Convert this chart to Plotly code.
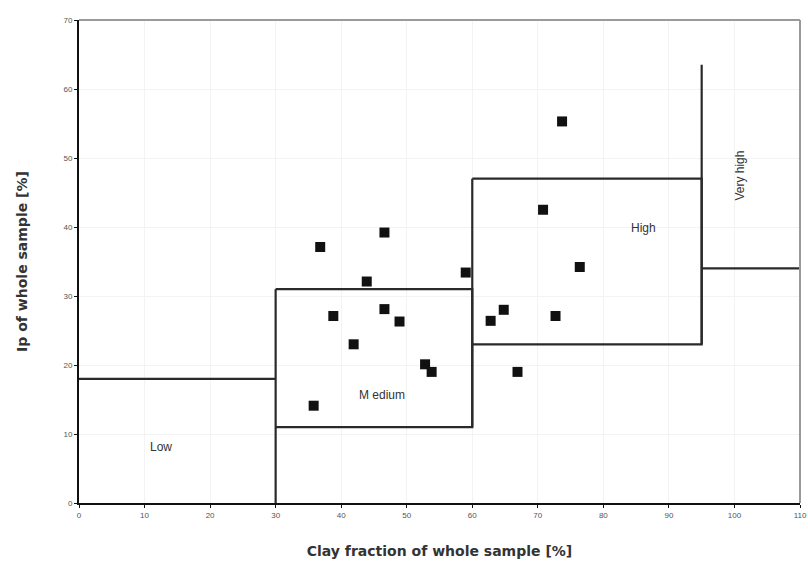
import plotly.graph_objects as go

# Sample points: clay fraction (%) and plasticity index Ip (%)
clay = [36.8, 46.6, 43.9, 59.0, 38.8, 46.6, 48.9, 41.9, 52.8, 53.8, 35.8,
        73.7, 70.8, 76.4, 64.8, 62.8, 72.7, 66.9]
ip = [37.1, 39.2, 32.1, 33.4, 27.1, 28.1, 26.3, 23.0, 20.1, 19.0, 14.1,
      55.3, 42.5, 34.2, 28.0, 26.4, 27.1, 19.0]

# Class boundary polylines
seg_low_x, seg_low_y = [0, 30], [18, 18]
seg_30_x, seg_30_y = [30, 30], [0, 31]
seg_med_x, seg_med_y = [30, 60, 60, 30], [31, 31, 11, 11]
seg_60_x, seg_60_y = [60, 60], [11, 47]
seg_high_x, seg_high_y = [60, 95, 95, 60], [47, 47, 23, 23]
seg_95_x, seg_95_y = [95, 95], [23, 63.5]
seg_vh_x, seg_vh_y = [95, 110], [34, 34]

# Class labels
class_names = ["Low", "M edium", "High", "Very high"]
class_x = [12.5, 46.3, 86.1, 100.9]
class_y = [8.1, 15.7, 39.9, 47.5]
class_angle = [0, 0, 0, -90]

x_ticks = list(range(0, 111, 10))
y_ticks = list(range(0, 71, 10))

fig = go.Figure()
segments = [(seg_low_x, seg_low_y), (seg_30_x, seg_30_y), (seg_med_x, seg_med_y),
            (seg_60_x, seg_60_y), (seg_high_x, seg_high_y), (seg_95_x, seg_95_y),
            (seg_vh_x, seg_vh_y)]
for sx, sy in segments:
    fig.add_trace(go.Scatter(x=sx, y=sy, mode="lines",
                             line=dict(color="#2a2a2a", width=2.2),
                             hoverinfo="skip", showlegend=False))

fig.add_trace(go.Scatter(x=clay, y=ip, mode="markers",
                         marker=dict(symbol="square", size=10, color="#111111"),
                         showlegend=False))

for name, cx, cy, ang in zip(class_names, class_x, class_y, class_angle):
    fig.add_annotation(x=cx, y=cy, text=name, showarrow=False, textangle=ang,
                       font=dict(family="Liberation Sans, Arial", size=12, color="#333333"))

# Grey top/right frame
fig.add_shape(type="line", xref="paper", yref="paper", x0=0, x1=1, y0=1, y1=1,
              line=dict(color="#9a9a9a", width=2))
fig.add_shape(type="line", xref="paper", yref="paper", x0=1, x1=1, y0=0, y1=1,
              line=dict(color="#9a9a9a", width=2))

fig.update_xaxes(range=[0, 110], tickvals=x_ticks, ticktext=[str(v) for v in x_ticks],
                 showline=True, linecolor="#111111", linewidth=2,
                 ticks="outside", ticklen=3, tickcolor="#111111",
                 showgrid=True, gridcolor="#f3f3f3", zeroline=False, automargin=False,
                 tickfont=dict(family="Liberation Sans, Arial", size=8, color="#555555"),
                 title=dict(text="<b>Clay fraction of whole sample [%]</b>",
                            font=dict(family="DejaVu Sans, Verdana", size=14, color="#333333"),
                            standoff=28))
fig.update_yaxes(range=[0, 70], tickvals=y_ticks, ticktext=[str(v) for v in y_ticks],
                 showline=True, linecolor="#111111", linewidth=2,
                 ticks="outside", ticklen=3, tickcolor="#111111",
                 showgrid=True, gridcolor="#f3f3f3", zeroline=False, automargin=False,
                 tickfont=dict(family="Liberation Sans, Arial", size=8, color="#555555"),
                 title=dict(text="<b>Ip of whole sample [%]</b>",
                            font=dict(family="DejaVu Sans, Verdana", size=14, color="#333333"),
                            standoff=33))

fig.update_layout(width=808, height=570, plot_bgcolor="white", paper_bgcolor="white",
                  margin=dict(l=79, r=8, t=20, b=67))

fig.write_html("out.html")
